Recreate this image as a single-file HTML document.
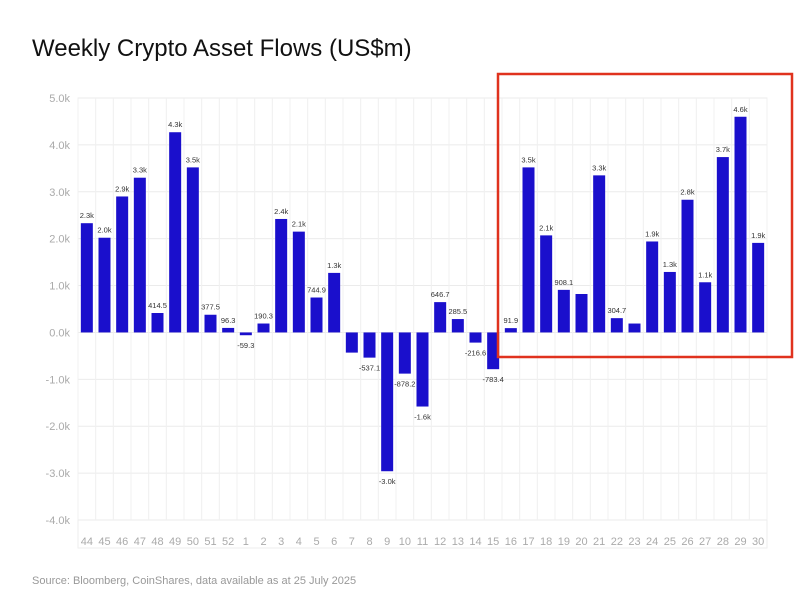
<!DOCTYPE html>
<html><head><meta charset="utf-8"><style>
body{margin:0;background:#fff;width:800px;height:601px;overflow:hidden;font-family:"Liberation Sans",sans-serif}
svg{position:absolute;left:0;top:0}
</style></head><body>
<svg id="chart" width="800" height="601">
<text x="32" y="56" font-size="24" fill="#111">Weekly Crypto Asset Flows (US$m)</text>
<text x="32" y="584" font-size="11" fill="#999">Source: Bloomberg, CoinShares, data available as at 25 July 2025</text>
<g id="grid"></g><g id="bars"></g><g id="labels"></g>
<rect x="498" y="74" width="294" height="283" fill="none" stroke="#e0321e" stroke-width="2.5"/>
</svg>
<script>
const categories=["44","45","46","47","48","49","50","51","52","1","2","3","4","5","6","7","8","9","10","11","12","13","14","15","16","17","18","19","20","21","22","23","24","25","26","27","28","29","30"];
const values=[2330,2020,2900,3300,414.5,4270,3520,377.5,96.3,-59.3,190.3,2420,2150,744.9,1270,-430,-537.1,-2960,-878.2,-1580,646.7,285.5,-216.6,-783.4,91.9,3520,2070,908.1,820,3350,304.7,190,1940,1290,2830,1070,3740,4600,1910];
const valueLabels=["2.3k","2.0k","2.9k","3.3k","414.5","4.3k","3.5k","377.5","96.3","-59.3","190.3","2.4k","2.1k","744.9","1.3k","","-537.1","-3.0k","-878.2","-1.6k","646.7","285.5","-216.6","-783.4","91.9","3.5k","2.1k","908.1","","3.3k","304.7","","1.9k","1.3k","2.8k","1.1k","3.7k","4.6k","1.9k"];
const yTicks=[-4000,-3000,-2000,-1000,0,1000,2000,3000,4000,5000];
const yTickLabels=["-4.0k","-3.0k","-2.0k","-1.0k","0.0k","1.0k","2.0k","3.0k","4.0k","5.0k"];
const NS="http://www.w3.org/2000/svg";
const x0=78,x1=767,yTop=98,yBot=520,vMin=-4000,vMax=5000;
const bw=(x1-x0)/categories.length;
const y=v=>yBot-(v-vMin)/(vMax-vMin)*(yBot-yTop);
const xc=i=>x0+bw*(i+0.5);
function mk(tag,at,parent){const e=document.createElementNS(NS,tag);for(const k in at)e.setAttribute(k,at[k]);document.getElementById(parent).appendChild(e);return e;}
const gb=mk("rect",{x:x0,y:yTop,width:x1-x0,height:yBot-yTop+28,fill:"none",stroke:"#eee"},"grid");


yTicks.forEach((t,i)=>{
 const l=mk("line",{x1:x0,x2:x1,y1:y(t),y2:y(t),stroke:"#ebebeb"},"grid");
 
 
 const tx=mk("text",{x:70,y:y(t)+4,"text-anchor":"end","font-size":11,fill:"#aaa"},"grid");
 tx.textContent=yTickLabels[i];
 
 
});
for(let i=0;i<=categories.length;i++){
 const l=mk("line",{x1:x0+bw*i,x2:x0+bw*i,y1:yTop,y2:yBot,stroke:"#f0f0f0"},"grid");
 
 
}
categories.forEach((c,i)=>{
 const v=values[i],cx=xc(i),w=12;
 const top=Math.min(y(v),y(0)),h=Math.max(Math.abs(y(v)-y(0)),1.5);
 const r=mk("rect",{x:cx-w/2,y:top,width:w,height:h,fill:"#1a0fcc"},"bars");
 
 
 const t=mk("text",{x:cx,y:545,"text-anchor":"middle","font-size":11,fill:"#aaa"},"labels");
 t.textContent=c;
 
 
 if(valueLabels[i]){
  const ly=v>=0?y(v)-5:y(v)+13;
  const vl=mk("text",{x:cx,y:ly,"text-anchor":"middle","font-size":7.5,fill:"#333"},"labels");
  vl.textContent=valueLabels[i];
  
  
 }
});
</script>
</body></html>
